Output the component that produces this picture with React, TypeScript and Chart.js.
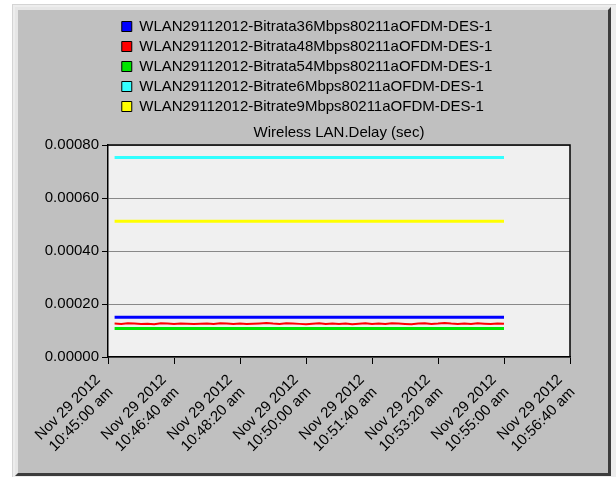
import React, { useEffect, useRef } from "react";
import { Chart, registerables } from "chart.js";

Chart.register(...registerables);

const CHART_TITLE = "Wireless LAN.Delay (sec)";

const seriesNames = [
  "WLAN29112012-Bitrata36Mbps80211aOFDM-DES-1",
  "WLAN29112012-Bitrata48Mbps80211aOFDM-DES-1",
  "WLAN29112012-Bitrata54Mbps80211aOFDM-DES-1",
  "WLAN29112012-Bitrate6Mbps80211aOFDM-DES-1",
  "WLAN29112012-Bitrate9Mbps80211aOFDM-DES-1",
];
const seriesColors = ["#0000ff", "#ff0000", "#00e600", "#33ffff", "#ffff00"];

// x axis: seconds since Nov 29 2012 10:45:00 am
const tickSeconds = [0, 100, 200, 300, 400, 500, 600, 700];
const tickDates = ["Nov 29 2012", "Nov 29 2012", "Nov 29 2012", "Nov 29 2012", "Nov 29 2012", "Nov 29 2012", "Nov 29 2012", "Nov 29 2012"];
const tickTimes = ["10:45:00 am", "10:46:40 am", "10:48:20 am", "10:50:00 am", "10:51:40 am", "10:53:20 am", "10:55:00 am", "10:56:40 am"];

// flat series (start / end samples)
const flatTimes = [10, 600];
const bitrate36Values = [0.000150, 0.000150];
const bitrate54Values = [0.000108, 0.000108];
const bitrate6Values = [0.000753, 0.000753];
const bitrate9Values = [0.000512, 0.000512];

// noisy series
const redTimes = [
  10, 20, 30, 40, 50, 60, 70, 80, 90, 100,
  110, 120, 130, 140, 150, 160, 170, 180, 190, 200,
  210, 220, 230, 240, 250, 260, 270, 280, 290, 300,
  310, 320, 330, 340, 350, 360, 370, 380, 390, 400,
  410, 420, 430, 440, 450, 460, 470, 480, 490, 500,
  510, 520, 530, 540, 550, 560, 570, 580, 590, 600,
];
const bitrate48Values = [
  0.0001260, 0.0001250, 0.0001270, 0.0001262, 0.0001248, 0.0001258, 0.0001236, 0.0001272, 0.0001262, 0.0001250,
  0.0001268, 0.0001258, 0.0001242, 0.0001252, 0.0001262, 0.0001250, 0.0001272, 0.0001260, 0.0001250, 0.0001262,
  0.0001242, 0.0001252, 0.0001264, 0.0001280, 0.0001260, 0.0001248, 0.0001270, 0.0001260, 0.0001250, 0.0001240,
  0.0001258, 0.0001272, 0.0001250, 0.0001262, 0.0001248, 0.0001260, 0.0001240, 0.0001258, 0.0001270, 0.0001250,
  0.0001262, 0.0001250, 0.0001272, 0.0001260, 0.0001248, 0.0001240, 0.0001260, 0.0001272, 0.0001250, 0.0001262,
  0.0001280, 0.0001260, 0.0001248, 0.0001262, 0.0001250, 0.0001270, 0.0001258, 0.0001248, 0.0001262, 0.0001252,
];

const FONT_FAMILY = '"Liberation Sans", Arial, sans-serif';

function pts(xs: number[], ys: number[]) {
  return xs.map((x, i) => ({ x, y: ys[i] }));
}

const plotDecor = {
  id: "plotDecor",
  beforeDraw(chart: any) {
    const { ctx, chartArea } = chart;
    ctx.save();
    ctx.fillStyle = "#f0f0f0";
    ctx.fillRect(chartArea.left, chartArea.top, chartArea.right - chartArea.left, chartArea.bottom - chartArea.top);
    ctx.restore();
  },
  afterDraw(chart: any) {
    const { ctx, chartArea } = chart;
    ctx.save();
    ctx.strokeStyle = "#000";
    ctx.lineWidth = 1.5;
    ctx.beginPath();
    ctx.moveTo(chartArea.left, chartArea.top);
    ctx.lineTo(chartArea.right, chartArea.top);
    ctx.lineTo(chartArea.right, chartArea.bottom);
    ctx.stroke();
    ctx.fillStyle = "#000";
    ctx.font = `15px ${FONT_FAMILY}`;
    ctx.textAlign = "center";
    ctx.textBaseline = "middle";
    ctx.fillText(CHART_TITLE, (chartArea.left + chartArea.right) / 2, chartArea.top - 12);
    ctx.restore();
  },
};

export default function App() {
  const canvasRef = useRef<HTMLCanvasElement | null>(null);

  useEffect(() => {
    document.body.style.margin = "0";
    const canvas = canvasRef.current;
    if (!canvas) return;
    const allData = [
      pts(flatTimes, bitrate36Values),
      pts(redTimes, bitrate48Values),
      pts(flatTimes, bitrate54Values),
      pts(flatTimes, bitrate6Values),
      pts(flatTimes, bitrate9Values),
    ];
    const widths = [3, 2, 3, 3, 3];
    const maxLen = Math.max(...seriesNames.map((n) => n.length));
    const chart = new Chart(canvas, {
      type: "line",
      data: {
        datasets: seriesNames.map((name, i) => ({
          label: name,
          data: allData[i],
          borderColor: seriesColors[i],
          backgroundColor: seriesColors[i],
          borderWidth: widths[i],
          pointRadius: 0,
          tension: 0,
          fill: false,
        })),
      },
      options: {
        responsive: false,
        animation: false,
        devicePixelRatio: 1,
        layout: { padding: { left: 44, right: 46, top: 14, bottom: 0 } },
        plugins: {
          legend: {
            display: true,
            position: "top",
            align: "center",
            weight: 1000,
            labels: {
              boxWidth: 10,
              boxHeight: 10,
              padding: 5,
              color: "#000",
              font: { family: FONT_FAMILY, size: 15 },
              generateLabels: (ch: any) =>
                ch.data.datasets.map((ds: any, i: number) => ({
                  // pad shorter names so all rows share the same left edge
                  text: ds.label + "  ".repeat(maxLen - ds.label.length),
                  fillStyle: ds.borderColor,
                  strokeStyle: "#000",
                  lineWidth: 1,
                  hidden: false,
                  datasetIndex: i,
                  fontColor: "#000",
                })),
            },
          },
          title: {
            display: true,
            text: CHART_TITLE,
            color: "rgba(0,0,0,0)",
            weight: 100,
            font: { family: FONT_FAMILY, size: 15 },
            padding: { top: 0, bottom: 3 },
          },
          tooltip: { enabled: false },
        },
        scales: {
          x: {
            type: "linear",
            min: 0,
            max: 700,
            afterFit: (s: any) => {
              s.height = 120;
            },
            afterBuildTicks: (s: any) => {
              s.ticks = tickSeconds.map((v) => ({ value: v }));
            },
            ticks: {
              autoSkip: false,
              maxRotation: 45,
              minRotation: 45,
              color: "#000",
              padding: 7,
              labelOffset: -10,
              font: { family: FONT_FAMILY, size: 15 },
              callback: (v: any) => {
                const i = tickSeconds.indexOf(Number(v));
                return i >= 0 ? [tickDates[i], tickTimes[i]] : "";
              },
            },
            grid: { drawOnChartArea: false, tickColor: "#000", tickLength: 7 },
            border: { color: "#000", width: 1.5 },
          },
          y: {
            min: 0,
            max: 0.0008,
            afterFit: (s: any) => {
              s.width = 64;
            },
            ticks: {
              stepSize: 0.0002,
              color: "#000",
              padding: 3,
              font: { family: FONT_FAMILY, size: 15 },
              callback: (v: any) => Number(v).toFixed(5),
            },
            grid: { color: "#888888", tickColor: "#000", tickLength: 6, lineWidth: 1 },
            border: { color: "#000", width: 1.5 },
          },
        },
      } as any,
      plugins: [plotDecor],
    });
    return () => chart.destroy();
  }, []);

  return (
    <div style={{ position: "relative", width: 616, height: 477, background: "#ffffff", overflow: "hidden" }}>
      <div
        style={{
          position: "absolute",
          left: 12,
          top: 4,
          width: 604,
          height: 473,
          background: "#ededed",
          borderLeft: "1px solid #d4d4d4",
          borderTop: "1px solid #d4d4d4",
          boxSizing: "border-box",
        }}
      />
      <div
        style={{
          position: "absolute",
          left: 15,
          top: 7,
          width: 596,
          height: 469,
          background: "#c0c0c0",
          borderLeft: "3px solid #e6e6e6",
          borderTop: "3px solid #e6e6e6",
          borderRight: "3px solid #3c3c3c",
          borderBottom: "3px solid #3c3c3c",
          boxSizing: "border-box",
        }}
      />
      <canvas ref={canvasRef} width={616} height={477} style={{ position: "absolute", left: 0, top: 0 }} />
    </div>
  );
}
